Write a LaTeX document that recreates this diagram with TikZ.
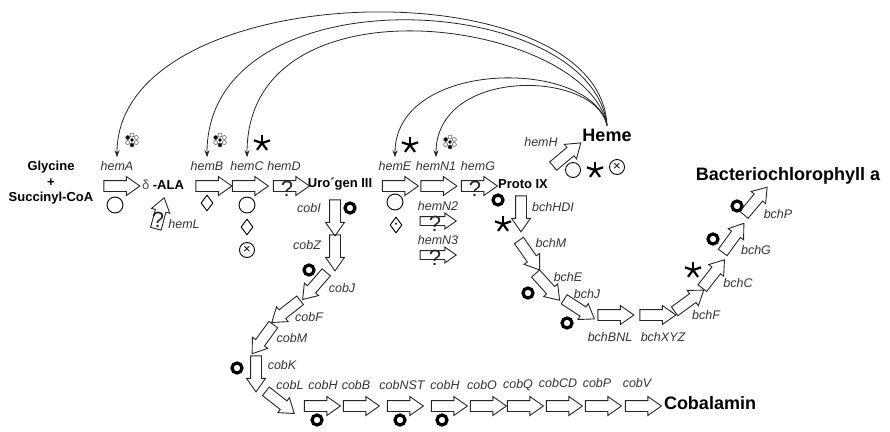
\documentclass[tikz,border=0pt]{standalone}
\usepackage{fontspec}
\setmainfont{Liberation Sans}
\usetikzlibrary{shapes.arrows,shapes.geometric,arrows.meta}
\tikzstyle{compound}=[font=\bfseries\fontsize{13}{15.5}\selectfont,inner sep=0pt,align=center]
\tikzstyle{product}=[font=\bfseries\fontsize{18}{20}\selectfont,inner sep=0pt]
\tikzstyle{gene}=[font=\itshape\fontsize{12.5}{14}\selectfont,text=black!80,inner sep=0pt]
\tikzstyle{blk}=[single arrow,draw=black!85,line width=0.9pt,inner xsep=0pt,inner ysep=5pt,
  minimum height=36pt,minimum width=0pt,single arrow head extend=4pt,single arrow tip angle=70]
\tikzstyle{unknown}=[font=\fontsize{22}{22}\selectfont,inner sep=0pt,text=black!85]
\tikzstyle{ring}=[circle,draw,line width=3.2pt,minimum size=10pt,inner sep=0pt]
\tikzstyle{opencirc}=[circle,draw,line width=0.9pt,minimum size=16pt,inner sep=0pt]
\tikzstyle{diam}=[diamond,draw,line width=0.9pt,minimum width=12pt,minimum height=16pt,inner sep=0pt]
\tikzstyle{otimes}=[circle,draw,line width=0.9pt,minimum size=15pt,inner sep=0pt,font=\fontsize{13}{13}\selectfont]
\tikzstyle{asterisk}=[minimum size=19pt,inner sep=0pt,path picture={
  \foreach \a in {270,198,126,54,342}
    \draw[line width=2.2pt] (path picture bounding box.center)
      -- ([shift={(\a:8.5)}]path picture bounding box.center);}]
\tikzstyle{flower}=[minimum size=16pt,inner sep=0pt,path picture={
  \foreach \a/\c in {90/black,30/white,150/white,210/black,330/white,270/white}
    \draw[line width=0.5pt,draw=black!70,fill=\c] ([shift={(\a:5)}]path picture bounding box.center) circle (2pt);
  \fill (path picture bounding box.center) circle (1.8pt);}]
\tikzstyle{hemearc}=[-{Stealth[length=7pt,width=5pt]},line width=0.8pt,draw=black!85,shorten >=4pt]

\begin{document}
\begin{tikzpicture}[x=1pt,y=-1pt]
  \useasboundingbox (0,0) rectangle (890,431);

  % First line: glycine to heme
  \node (glycine) [compound] at (51,183) {Glycine\\+\\Succinyl-CoA};
  \node (hemAarr) [blk] at (118,186) {};
  \node (hemA) [gene] at (117,166) {hemA};
  \node (ala) [compound] at (163,185) {{\mdseries\color{black!70}δ} -ALA};
  \node (hemLarr) [blk,minimum height=32pt,rotate=75] at (159,217) {};
  \node (hemLq) [unknown] at (158,220) {?};
  \node (hemL) [gene] at (184,224) {hemL};
  \node (hemBarr) [blk] at (210,186) {};
  \node (hemB) [gene] at (207,166) {hemB};
  \node (hemCarr) [blk] at (246.5,186) {};
  \node (hemC) [gene] at (247,166) {hemC};
  \node (hemDarr) [blk] at (287.5,186) {};
  \node (hemDq) [unknown] at (287,189) {?};
  \node (hemD) [gene] at (284,166) {hemD};
  \node (uro) [compound] at (340,184) {Uro´gen III};
  \node (hemEarr) [blk] at (396.5,186) {};
  \node (hemE) [gene] at (395,166) {hemE};
  \node (hemN1arr) [blk] at (435,186) {};
  \node (hemN1) [gene] at (436,166) {hemN1};
  \node (hemGarr) [blk] at (475.5,186) {};
  \node (hemGq) [unknown] at (475,189) {?};
  \node (hemG) [gene] at (478,166) {hemG};
  \node (hemN2arr) [blk,inner ysep=4pt,single arrow head extend=3.5pt] at (435,221) {};
  \node (hemN2q) [unknown] at (435,224) {?};
  \node (hemN2) [gene] at (438,206) {hemN2};
  \node (hemN3arr) [blk,inner ysep=4pt,single arrow head extend=3.5pt] at (435,255) {};
  \node (hemN3q) [unknown] at (435,258) {?};
  \node (hemN3) [gene] at (438,240) {hemN3};
  \node (proto) [compound] at (523,184) {Proto IX};
  \node (hemHarr) [blk,rotate=40] at (564,157) {};
  \node (hemH) [gene] at (541,142) {hemH};
  \node (heme) [product] at (607,135) {Heme};

  % marks on the heme genes
  \node (flA) [flower] at (132,140) {};
  \node (flB) [flower] at (220,140) {};
  \node (flN1) [flower] at (450,142) {};
  \node (stC) [asterisk] at (262,143) {};
  \node (stE) [asterisk] at (410,145) {};
  \node (ciA) [opencirc] at (115,205) {};
  \node (diB) [diam] at (207,203) {};
  \node (ciC) [opencirc] at (247,205) {};
  \node (diC) [diam] at (247,227) {};
  \node (otC) [otimes] at (247,250) {×};
  \node (ciE) [opencirc] at (395,202) {};
  \node (diE) [diam,font=\fontsize{7}{7}\selectfont] at (396,225) {•};
  \node (ciH) [opencirc,minimum size=15pt] at (573,170) {};
  \node (stH) [asterisk] at (595,170) {};
  \node (otH) [otimes] at (617,167) {×};

  % feedback from heme
  \draw[hemearc] ([yshift=3pt]heme.north) .. controls (600,-35) and (117,-25) .. (hemA.north);
  \draw[hemearc] ([yshift=3pt]heme.north) .. controls (592,-10) and (207,-30) .. (hemB.north);
  \draw[hemearc] ([yshift=3pt]heme.north) .. controls (588,20) and (247,-30) .. (hemC.north);
  \draw[hemearc] ([yshift=3pt]heme.north) .. controls (592,58) and (395,58) .. (hemE.north);
  \draw[hemearc] ([yshift=3pt]heme.north) .. controls (596,70) and (436,66) .. (hemN1.north);

  % Second line: cobalamin
  \node (cobIarr) [blk,rotate=-90] at (335,214) {};
  \node (cobI) [gene] at (309,208) {cobI};
  \node (rgI) [ring] at (350,208) {};
  \node (cobZarr) [blk,rotate=-90] at (335,249) {};
  \node (cobZ) [gene] at (307,245) {cobZ};
  \node (rgZ) [ring] at (309,270) {};
  \node (cobJarr) [blk,rotate=229] at (317,283) {};
  \node (cobJ) [gene] at (342,288) {cobJ};
  \node (cobFarr) [blk,rotate=218] at (289,309) {};
  \node (cobF) [gene] at (309,317) {cobF};
  \node (cobMarr) [blk,rotate=234] at (265,336) {};
  \node (cobM) [gene] at (292,338) {cobM};
  \node (cobKarr) [blk,rotate=-90] at (256,370) {};
  \node (cobK) [gene] at (282,365) {cobK};
  \node (rgK) [ring] at (237,368) {};
  \node (cobLarr) [blk,rotate=-38] at (277,400) {};
  \node (cobL) [gene] at (290,385) {cobL};
  \node (cobHarr) [blk] at (318.5,406) {};
  \node (cobH) [gene] at (323,385) {cobH};
  \node (rgH) [ring] at (317,420) {};
  \node (cobBarr) [blk] at (357.5,406) {};
  \node (cobB) [gene] at (356,385) {cobB};
  \node (cobNSTarr) [blk] at (401.5,406) {};
  \node (cobNST) [gene] at (402,385) {cobNST};
  \node (rgNST) [ring] at (400,420) {};
  \node (cobHbarr) [blk] at (445.5,406) {};
  \node (cobHb) [gene] at (445,385) {cobH};
  \node (rgHb) [ring] at (442,420) {};
  \node (cobOarr) [blk] at (484.5,406) {};
  \node (cobO) [gene] at (482,385) {cobO};
  \node (cobQarr) [blk] at (521.5,406) {};
  \node (cobQ) [gene] at (518,385) {cobQ};
  \node (cobCDarr) [blk] at (560.5,406) {};
  \node (cobCD) [gene] at (558,383) {cobCD};
  \node (cobParr) [blk] at (599.5,406) {};
  \node (cobP) [gene] at (597,383) {cobP};
  \node (cobVarr) [blk] at (639.5,406) {};
  \node (cobV) [gene] at (637,383) {cobV};
  \node (cobalamin) [product] at (710,403) {Cobalamin};

  % Third line: bacteriochlorophyll
  \node (rgP9) [ring] at (498,200) {};
  \node (stP9) [asterisk] at (503,224) {};
  \node (bchHDIarr) [blk,rotate=-90] at (521,210) {};
  \node (bchHDI) [gene] at (553,207) {bchHDI};
  \node (bchMarr) [blk,rotate=-55] at (527,252) {};
  \node (bchM) [gene] at (551,243) {bchM};
  \node (bchEarr) [blk,rotate=-48] at (545,284) {};
  \node (bchE) [gene] at (568,277) {bchE};
  \node (rgE) [ring] at (528,293) {};
  \node (bchJarr) [blk,rotate=-33] at (576,307) {};
  \node (bchJ) [gene] at (587,294) {bchJ};
  \node (rgJ) [ring] at (567,323) {};
  \node (bchBNLarr) [blk] at (612,315) {};
  \node (bchBNL) [gene] at (610,337) {bchBNL};
  \node (bchXYZarr) [blk] at (654,315) {};
  \node (bchXYZ) [gene] at (663,337) {bchXYZ};
  \node (bchFarr) [blk,rotate=36] at (686,303) {};
  \node (bchF) [gene] at (706,315) {bchF};
  \node (bchCarr) [blk,rotate=52] at (711,277) {};
  \node (bchC) [gene] at (738,283) {bchC};
  \node (stBC) [asterisk] at (693,270) {};
  \node (bchGarr) [blk,rotate=54] at (731,241) {};
  \node (bchG) [gene] at (756,250) {bchG};
  \node (rgG) [ring] at (713,239) {};
  \node (bchParr) [blk,rotate=50] at (753,204) {};
  \node (bchP) [gene] at (778,214) {bchP};
  \node (rgBP) [ring] at (737,206) {};
  \node (bchla) [product] at (788,176) {Bacteriochlorophyll a};
\end{tikzpicture}
\end{document}
